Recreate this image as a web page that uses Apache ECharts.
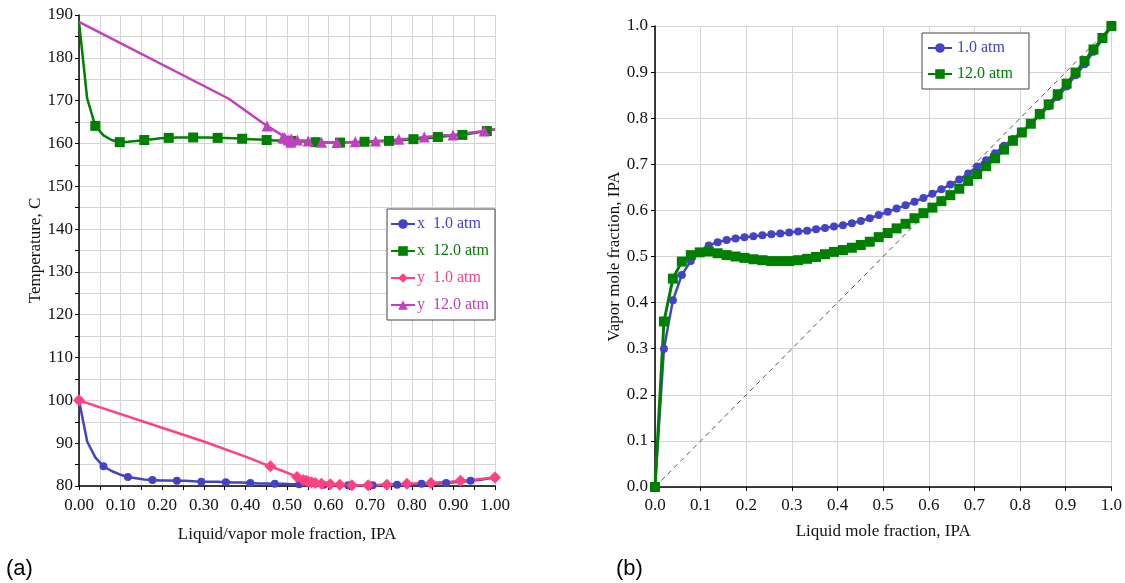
<!DOCTYPE html>
<html><head><meta charset="utf-8">
<script src="https://cdn.jsdelivr.net/npm/echarts@6/dist/echarts.min.js"></script>
<style>html,body{margin:0;padding:0;background:#fff}#c{width:1125px;height:583px}</style>
</head><body><div id="c"></div>
<script>
// liquid mole fraction grid (IPA)
const xGrid = [0, 0.0196, 0.0392, 0.0588, 0.0784, 0.098, 0.1176, 0.1373, 0.1569, 0.1765,
  0.1961, 0.2157, 0.2353, 0.2549, 0.2745, 0.2941, 0.3137, 0.3333, 0.3529, 0.3725,
  0.3922, 0.4118, 0.4314, 0.451, 0.4706, 0.4902, 0.5098, 0.5294, 0.549, 0.5686,
  0.5882, 0.6078, 0.6275, 0.6471, 0.6667, 0.6863, 0.7059, 0.7255, 0.7451, 0.7647,
  0.7843, 0.8039, 0.8235, 0.8431, 0.8627, 0.8824, 0.902, 0.9216, 0.9412, 0.9608,
  0.9804, 1.0];
// vapor mole fraction at 1.0 atm
const y1atm = [0, 0.30, 0.405, 0.46, 0.49, 0.51, 0.524, 0.531, 0.536, 0.539,
  0.542, 0.544, 0.546, 0.548, 0.55, 0.552, 0.554, 0.556, 0.559, 0.562,
  0.565, 0.568, 0.572, 0.577, 0.583, 0.59, 0.597, 0.604, 0.611, 0.619,
  0.627, 0.636, 0.646, 0.656, 0.667, 0.68, 0.695, 0.709, 0.724, 0.74,
  0.755, 0.771, 0.788, 0.806, 0.826, 0.846, 0.869, 0.893, 0.917, 0.944,
  0.971, 1.0];
// vapor mole fraction at 12.0 atm
const y12atm = [0, 0.359, 0.452, 0.489, 0.503, 0.509, 0.511, 0.507, 0.503, 0.500,
  0.497, 0.494, 0.492, 0.490, 0.490, 0.490, 0.492, 0.495, 0.499, 0.505,
  0.510, 0.514, 0.519, 0.525, 0.532, 0.542, 0.551, 0.561, 0.571, 0.583,
  0.594, 0.606, 0.620, 0.633, 0.647, 0.664, 0.679, 0.696, 0.713, 0.732,
  0.751, 0.769, 0.788, 0.809, 0.830, 0.852, 0.875, 0.899, 0.924, 0.949,
  0.974, 1.0];
// temperature (C) at 1.0 atm
const T1atm = [100, 90.4, 86.7, 84.6, 83.5, 82.7, 82.1, 81.8, 81.5, 81.4,
  81.3, 81.3, 81.2, 81.2, 81.1, 81.0, 81.0, 81.0, 80.9, 80.8,
  80.8, 80.7, 80.6, 80.6, 80.5, 80.5, 80.4, 80.4, 80.3, 80.3,
  80.3, 80.3, 80.2, 80.2, 80.2, 80.2, 80.2, 80.2, 80.3, 80.3,
  80.4, 80.4, 80.5, 80.6, 80.6, 80.7, 80.9, 81.0, 81.2, 81.4,
  81.7, 82.0];
// temperature (C) at 12.0 atm
const T12atm = [188.4, 170.5, 164.1, 161.9, 160.8, 160.3, 160.4, 160.6, 160.8, 161.0,
  161.2, 161.3, 161.4, 161.4, 161.4, 161.4, 161.4, 161.3, 161.3, 161.2,
  161.1, 161.0, 160.9, 160.8, 160.7, 160.7, 160.6, 160.5, 160.4, 160.3,
  160.2, 160.2, 160.2, 160.3, 160.3, 160.4, 160.4, 160.5, 160.6, 160.7,
  160.8, 161.0, 161.1, 161.3, 161.5, 161.7, 161.9, 162.0, 162.3, 162.6,
  162.9, 163.3];
const diagonal = [[0, 0], [1, 1]];
const namesA = ['x  1.0 atm', 'x  12.0 atm', 'y  1.0 atm', 'y  12.0 atm'];
const namesB = ['1.0 atm', '12.0 atm'];
const panelLabels = ['(a)', '(b)'];

const BLUE = '#4343c6', GREEN = '#008000', PINK = '#ff4081', PURPLE = '#c040c0';
const SERIF = '"Liberation Serif", "DejaVu Serif", serif';
const labelStyle = {color: '#111', fontFamily: SERIF, fontSize: 17};

function pts(xs, ys, everyOffset) {
  return xs.map((x, i) => {
    const item = {value: [x, ys[i]]};
    if (everyOffset !== null && i % 3 !== everyOffset) item.symbol = 'none';
    return item;
  });
}

const chart = echarts.init(document.getElementById('c'), null, {renderer: 'canvas'});

const axisCommonX = {
  type: 'value', min: 0, max: 1,
  axisLine: {onZero: false, lineStyle: {color: '#000', width: 1.5}},
  axisTick: {show: true, length: 4, lineStyle: {color: '#000'}},
  splitLine: {show: true, lineStyle: {color: '#d4d4d4', width: 1}},
  nameLocation: 'middle',
  nameTextStyle: {color: '#111', fontFamily: SERIF, fontSize: 17}
};

const option = {
  animation: false,
  backgroundColor: '#fff',
  grid: [
    {left: 79, top: 15, width: 416, height: 471},
    {left: 655, top: 26, width: 458, height: 461}
  ],
  xAxis: [
    Object.assign({}, axisCommonX, {
      gridIndex: 0, interval: 0.05,
      name: 'Liquid/vapor mole fraction, IPA', nameGap: 40,
      axisLabel: Object.assign({}, labelStyle, {margin: 11,
        formatter: v => (Math.round(v * 100) % 10 === 0 ? v.toFixed(2) : '')})
    }),
    Object.assign({}, axisCommonX, {
      gridIndex: 1, interval: 0.1,
      name: 'Liquid mole fraction, IPA', nameGap: 36,
      axisLabel: Object.assign({}, labelStyle, {margin: 10, formatter: v => v.toFixed(1)})
    })
  ],
  yAxis: [
    {
      gridIndex: 0, type: 'value', min: 80, max: 190, interval: 5,
      axisLine: {onZero: false, lineStyle: {color: '#000', width: 1.5}},
      axisTick: {show: true, length: 4, lineStyle: {color: '#000'}},
      splitLine: {show: true, lineStyle: {color: '#d4d4d4', width: 1}},
      axisLabel: Object.assign({}, labelStyle, {margin: 6,
        formatter: v => (Math.round(v) % 10 === 0 ? String(Math.round(v)) : '')}),
      name: 'Temperature, C', nameLocation: 'middle', nameGap: 35, nameRotate: 90,
      nameTextStyle: {color: '#111', fontFamily: SERIF, fontSize: 17}
    },
    {
      gridIndex: 1, type: 'value', min: 0, max: 1, interval: 0.1,
      axisLine: {onZero: false, lineStyle: {color: '#000', width: 1.5}},
      axisTick: {show: true, length: 4, lineStyle: {color: '#000'}},
      splitLine: {show: true, lineStyle: {color: '#d4d4d4', width: 1}},
      axisLabel: Object.assign({}, labelStyle, {margin: 7, formatter: v => v.toFixed(1)}),
      name: 'Vapor mole fraction, IPA', nameLocation: 'middle', nameGap: 24, nameRotate: 90,
      nameTextStyle: {color: '#111', fontFamily: SERIF, fontSize: 17}
    }
  ],
  legend: [
    {
      left: 387, top: 209, orient: 'vertical', itemWidth: 24, itemHeight: 12, itemGap: 11,
      padding: [7, 6, 7, 3], backgroundColor: '#fff', borderColor: '#444', borderWidth: 1,
      borderRadius: 0,
      textStyle: {fontFamily: SERIF, fontSize: 16, padding: [0, 0, 0, -3]},
      data: [
        {name: namesA[0], textStyle: {color: BLUE}},
        {name: namesA[1], textStyle: {color: GREEN}},
        {name: namesA[2], textStyle: {color: PINK}},
        {name: namesA[3], textStyle: {color: PURPLE}}
      ]
    },
    {
      left: 922, top: 33, orient: 'vertical', itemWidth: 24, itemHeight: 12, itemGap: 10,
      padding: [7, 16, 7, 5], backgroundColor: '#fff', borderColor: '#444', borderWidth: 1,
      borderRadius: 0,
      textStyle: {fontFamily: SERIF, fontSize: 16},
      data: [
        {name: namesB[0], textStyle: {color: BLUE}},
        {name: namesB[1], textStyle: {color: GREEN}}
      ]
    }
  ],
  graphic: [
    {type: 'text', left: 6, top: 558, style: {text: panelLabels[0], font: '22px "Liberation Sans", Arial, sans-serif', fill: '#000'}},
    {type: 'text', left: 616, top: 558, style: {text: panelLabels[1], font: '22px "Liberation Sans", Arial, sans-serif', fill: '#000'}}
  ],
  series: [
    {
      name: namesA[0], type: 'line', xAxisIndex: 0, yAxisIndex: 0,
      data: pts(xGrid, T1atm, 0), symbol: 'circle', symbolSize: 8,
      lineStyle: {color: BLUE, width: 2.5}, itemStyle: {color: BLUE}
    },
    {
      name: namesA[1], type: 'line', xAxisIndex: 0, yAxisIndex: 0,
      data: pts(xGrid, T12atm, 2), symbol: 'rect', symbolSize: 10,
      lineStyle: {color: GREEN, width: 2.5}, itemStyle: {color: GREEN}
    },
    {
      name: namesA[2], type: 'line', xAxisIndex: 0, yAxisIndex: 0,
      data: pts(y1atm, T1atm, 0), symbol: 'diamond', symbolSize: 12,
      lineStyle: {color: PINK, width: 2.5}, itemStyle: {color: PINK}
    },
    {
      name: namesA[3], type: 'line', xAxisIndex: 0, yAxisIndex: 0,
      data: pts(y12atm, T12atm, 2), symbol: 'triangle', symbolSize: 11,
      lineStyle: {color: PURPLE, width: 2.5}, itemStyle: {color: PURPLE}
    },
    {
      name: 'diagonal', type: 'line', xAxisIndex: 1, yAxisIndex: 1,
      data: diagonal, symbol: 'none', silent: true,
      lineStyle: {color: '#555', width: 1, type: [5, 4]}
    },
    {
      name: namesB[0], type: 'line', xAxisIndex: 1, yAxisIndex: 1,
      data: pts(xGrid, y1atm, null), symbol: 'circle', symbolSize: 8,
      lineStyle: {color: BLUE, width: 2.5}, itemStyle: {color: BLUE}
    },
    {
      name: namesB[1], type: 'line', xAxisIndex: 1, yAxisIndex: 1,
      data: pts(xGrid, y12atm, null), symbol: 'rect', symbolSize: 10,
      lineStyle: {color: GREEN, width: 3}, itemStyle: {color: GREEN}
    }
  ]
};
chart.setOption(option);
</script></body></html>
